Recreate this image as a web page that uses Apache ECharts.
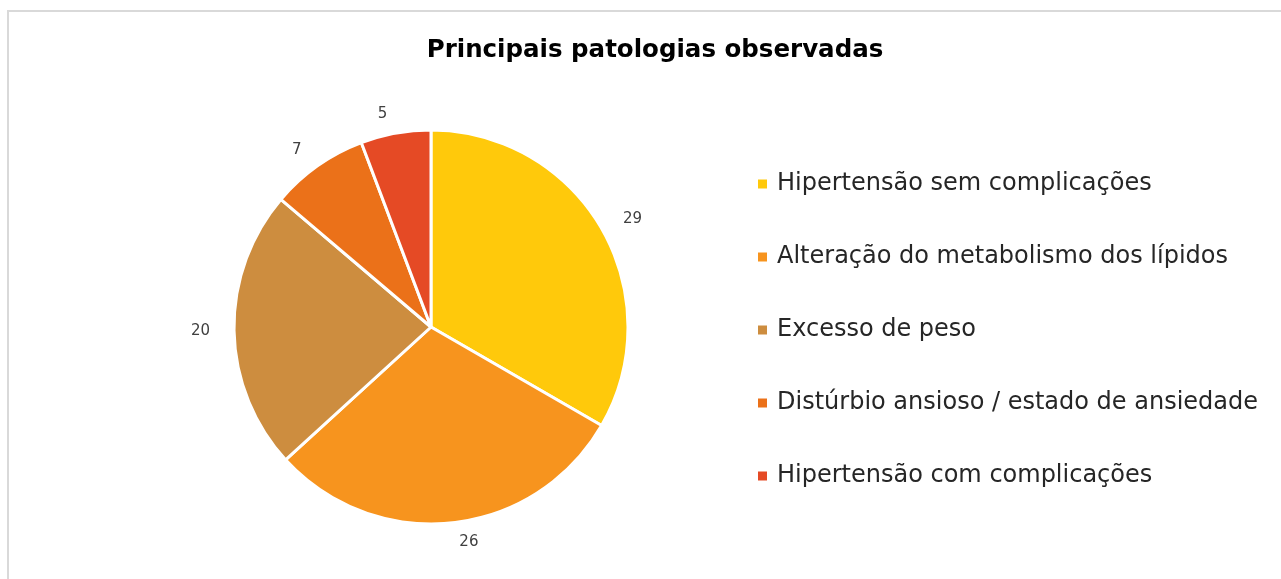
<!DOCTYPE html>
<html>
<head>
<meta charset="utf-8">
<script src="https://cdn.jsdelivr.net/npm/echarts@6/dist/echarts.min.js"></script>
<style>
  html, body { margin: 0; padding: 0; background: #fff; overflow: hidden; width: 1281px; height: 579px; position: relative; }
  #frame {
    position: absolute; left: 7px; top: 10px; width: 1320px; height: 620px;
    border-top: 2px solid #d9d9d9; border-left: 2px solid #d9d9d9;
    box-sizing: border-box;
  }
  #chart { position: absolute; left: 0; top: 0; width: 1281px; height: 579px; }
</style>
</head>
<body>
<div id="frame"></div>
<div id="chart"></div>
<script>
// principais patologias
const categories = [
  'Hipertensão sem complicações',
  'Alteração do metabolismo dos lípidos',
  'Excesso de peso',
  'Distúrbio ansioso / estado de ansiedade',
  'Hipertensão com complicações'
]
const values = [29, 26, 20, 7, 5]
const colors = ['#ffc90b', '#f7941e', '#cd8d3f', '#eb7119', '#e54a25']

const chart = echarts.init(document.getElementById('chart'))
chart.setOption({
  backgroundColor: 'transparent',
  color: colors,
  title: {
    text: 'Principais patologias observadas',
    left: 650,
    textAlign: 'center',
    top: 33,
    textStyle: {
      fontFamily: 'DejaVu Sans',
      fontWeight: 'bold',
      fontSize: 24.5,
      color: '#000'
    }
  },
  legend: {
    orient: 'vertical',
    left: 753,
    top: 165,
    icon: 'rect',
    itemWidth: 9,
    itemHeight: 9,
    itemGap: 45,
    itemStyle: { borderWidth: 0 },
    textStyle: {
      fontFamily: 'DejaVu Sans',
      fontSize: 24,
      lineHeight: 28,
      color: '#262626',
      padding: [0, 0, 0, 5]
    },
    data: categories
  },
  series: [{
    type: 'pie',
    center: [431, 327],
    radius: 197,
    startAngle: 90,
    clockwise: true,
    avoidLabelOverlap: false,
    itemStyle: {
      borderColor: '#fff',
      borderWidth: 3
    },
    label: {
      show: true,
      position: 'outside',
      formatter: '{c}',
      fontFamily: 'DejaVu Sans',
      fontSize: 15,
      color: '#404040'
    },
    labelLine: { show: false, length: 19, length2: 0 },
    emphasis: { disabled: true },
    animation: false,
    data: categories.map((name, i) => ({ name, value: values[i] }))
  }]
})
</script>
</body>
</html>
